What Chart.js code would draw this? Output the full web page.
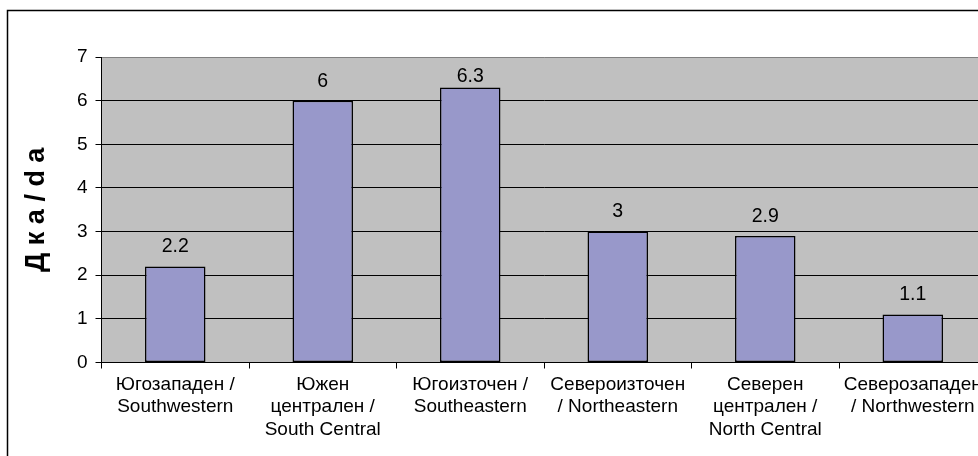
<!DOCTYPE html>
<html>
<head>
<meta charset="utf-8">
<script src="https://cdn.jsdelivr.net/npm/chart.js@4"></script>
<style>
  html, body { margin: 0; padding: 0; background: #fff; overflow: hidden; }
  #wrap { position: absolute; left: 0; top: 0; width: 1000px; height: 456px; }
</style>
</head>
<body>
<div id="wrap"><canvas id="chart" width="1000" height="456"></canvas></div>
<script>
const regions = [
  ["Югозападен /", "Southwestern"],
  ["Южен", "централен /", "South Central"],
  ["Югоизточен /", "Southeastern"],
  ["Североизточен", "/ Northeastern"],
  ["Северен", "централен /", "North Central"],
  ["Северозападен", "/ Northwestern"]
];
const values = [2.2, 6, 6.3, 3, 2.9, 1.1];
const yTitle = "Д к а / d a";

const FONT = "'Liberation Sans', Arial, sans-serif";
Chart.defaults.font.family = FONT;
Chart.defaults.font.size = 19;
Chart.defaults.color = "#000";

// grey plot area + outer frame
const frame = {
  id: "frame",
  beforeDraw(chart) {
    const { ctx, chartArea: a } = chart;
    ctx.save();
    ctx.fillStyle = "#C0C0C0";
    ctx.fillRect(a.left, a.top, a.right - a.left, a.bottom - a.top);
    ctx.strokeStyle = "#000";
    ctx.lineWidth = 1.5;
    ctx.strokeRect(7.5, 10.5, 1200, 600);
    ctx.restore();
  }
};

// value labels above the bars, kept inside the plot area
const valueLabels = {
  id: "valueLabels",
  afterDatasetsDraw(chart) {
    const { ctx, chartArea: a } = chart;
    const meta = chart.getDatasetMeta(0);
    ctx.save();
    ctx.font = "19.5px " + FONT;
    ctx.fillStyle = "#000";
    ctx.textAlign = "center";
    ctx.textBaseline = "middle";
    meta.data.forEach((bar, i) => {
      const y = Math.max(bar.y - 19.5, a.top + 19.5);
      ctx.fillText(String(values[i]), bar.x, y);
    });
    ctx.restore();
  }
};

new Chart(document.getElementById("chart"), {
  type: "bar",
  data: {
    labels: regions,
    datasets: [{
      data: values,
      backgroundColor: "#9898CA",
      borderColor: "#000",
      borderWidth: 1.5,
      borderSkipped: false,
      categoryPercentage: 1,
      barPercentage: 0.41
    }]
  },
  options: {
    responsive: false,
    animation: false,
    layout: { padding: { left: 0, top: 57, right: 13.5, bottom: 0 } },
    plugins: { legend: { display: false }, tooltip: { enabled: false } },
    scales: {
      x: {
        offset: true,
        afterFit: s => { s.height = 93.5; },
        grid: { offset: true, drawOnChartArea: false, drawTicks: true, tickLength: 6, color: "#000" },
        border: { display: true, color: "#000", width: 1 },
        ticks: { maxRotation: 0, autoSkip: false, padding: 5, font: { size: 19, lineHeight: 1.18 } }
      },
      y: {
        min: 0,
        max: 7,
        afterFit: s => { s.width = 101.5; },
        grid: {
          color: c => (c.tick && c.tick.value === 7 ? "#808080" : "#000"),
          tickColor: "#000",
          tickLength: 6,
          lineWidth: 1
        },
        border: { display: true, color: "#000", width: 1 },
        ticks: { stepSize: 1, padding: 8, font: { size: 19 } },
        title: {
          display: true,
          text: yTitle,
          font: { size: 27, weight: "bold", lineHeight: 1 },
          padding: { top: 23, bottom: 0 }
        }
      }
    }
  },
  plugins: [frame, valueLabels]
});
</script>
</body>
</html>
